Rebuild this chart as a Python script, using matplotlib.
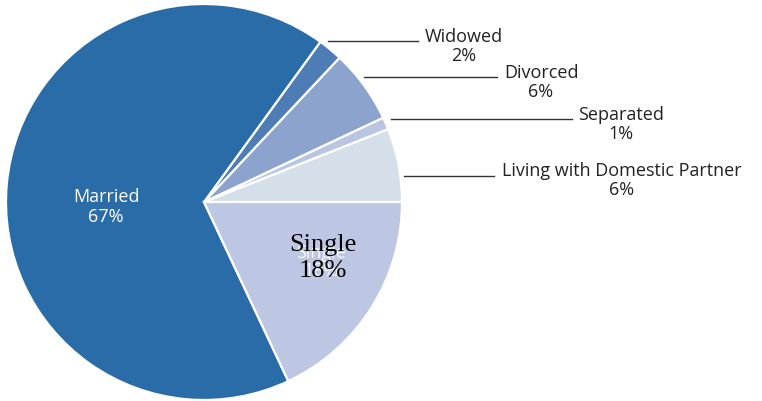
import matplotlib
matplotlib.use("Agg")
import matplotlib.pyplot as plt
from matplotlib.lines import Line2D

categories = ["Living with Domestic Partner", "Separated", "Divorced", "Widowed", "Married", "Single"]
values = [6, 1, 6, 2, 67, 18]
colors = ["#D5DFEA", "#BAC5E1", "#8BA3CD", "#4E7DB6", "#2A6CA8", "#BDC7E3"]

W, H = 762, 402
fig = plt.figure(figsize=(W / 100, H / 100), dpi=100)
fig.patch.set_facecolor("white")

cx, cy, r = 204, 203, 198
ax = fig.add_axes([(cx - r) / W, (H - cy - r) / H, 2 * r / W, 2 * r / H])
ax.pie(values, colors=colors, startangle=0, counterclock=True, radius=1,
       wedgeprops=dict(edgecolor="white", linewidth=1.6))
ax.set_xlim(-1, 1)
ax.set_ylim(-1, 1)
ax.set_aspect("auto")
ax.axis("off")

def fx(x):
    return x / W

def fy(y):
    return 1 - y / H

sans = ["Open Sans", "DejaVu Sans"]

# Married label
fig.text(fx(106), fy(207), f"{categories[4]}\n{values[4]}%", color="white", fontsize=13,
         family=sans, ha="center", va="center", linespacing=1.12)

# original white Single label underneath
fig.text(fx(321), fy(262), f"{categories[5]}\n{values[5]}%", color="white", fontsize=13,
         family=sans, ha="center", va="center", linespacing=1.0, alpha=0.9)
# overlaid serif label
fig.text(fx(323), fy(258), f"{categories[5]}\n{values[5]}%", color="black", fontsize=19,
         family=["Liberation Serif", "DejaVu Serif"], ha="center", va="center", linespacing=1.22)

# outer labels: (index, text center x, label top-line y, line x0, line x1, line y)
outer = [
    (3, 464, 36, 328, 418, 42),
    (2, 541, 72, 364, 497, 78),
    (1, 621, 114, 391, 572, 120),
    (0, 622, 170, 404, 494, 177),
]
for idx, tx, ty, x0, x1, ly in outer:
    fig.text(fx(tx), fy(ty + 10.5), f"{categories[idx]}\n{values[idx]}%", color="#222222",
             fontsize=13, family=sans, ha="center", va="center", linespacing=1.12)
    fig.add_artist(Line2D([fx(x0), fx(x1)], [fy(ly), fy(ly)], color="#333333", lw=1.0,
                          transform=fig.transFigure))

fig.savefig("out.png", dpi=100)
